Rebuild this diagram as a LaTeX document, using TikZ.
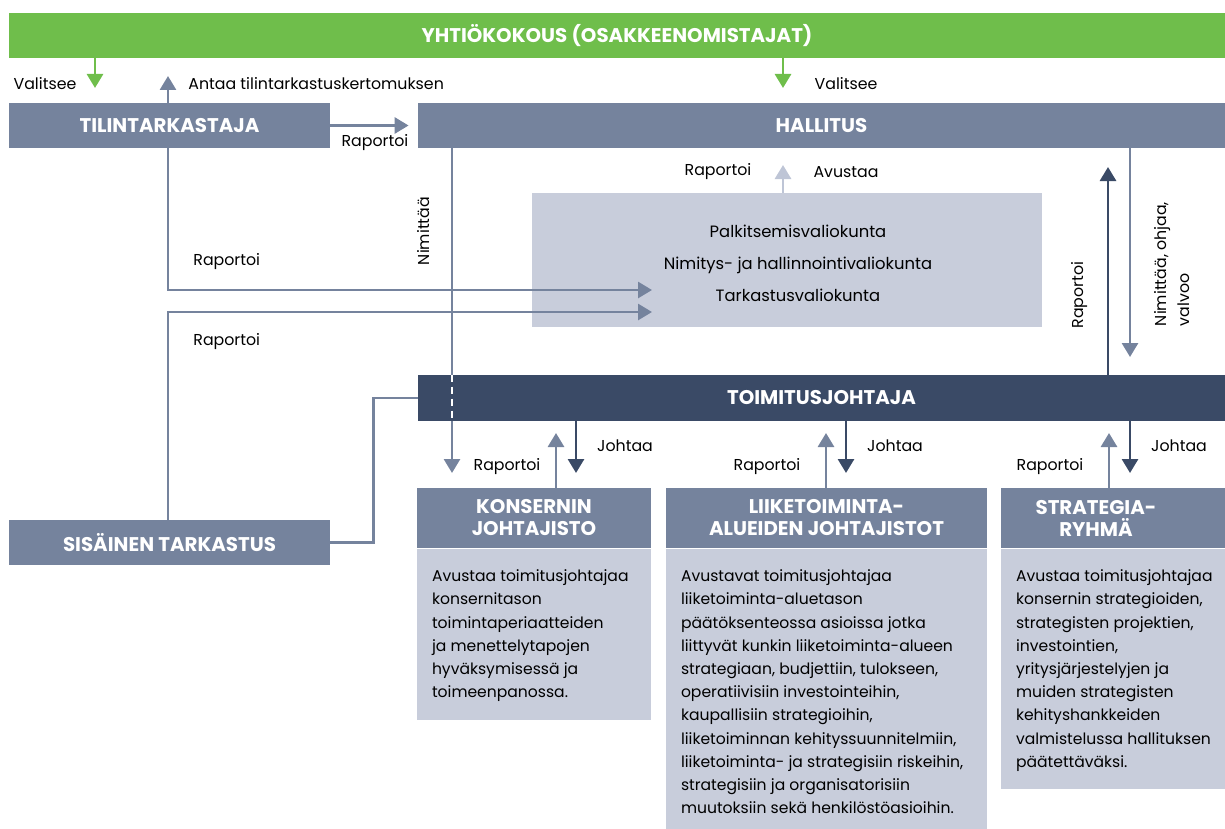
\documentclass[tikz,border=0pt]{standalone}
\usepackage{fontspec}
\setmainfont{Poppins}
\usetikzlibrary{arrows.meta}
\usetikzlibrary{positioning}

\definecolor{kokous}{RGB}{111,190,75}
\definecolor{slate}{RGB}{117,131,157}
\definecolor{navy}{RGB}{58,74,102}
\definecolor{pale}{RGB}{200,205,219}
\definecolor{paleline}{RGB}{190,197,214}

\begin{document}
\begin{tikzpicture}
    [x=0.5pt,y=-0.5pt,
    bar/.style={rectangle,fill=slate,text=white,inner sep=0pt,
      font=\bfseries\fontsize{9.9}{11}\selectfont,align=center},
    panel/.style={rectangle,fill=pale,inner sep=0pt},
    note/.style={font=\fontsize{7.8}{11.6}\selectfont,inner sep=0pt,align=left},
    tag/.style={font=\fontsize{7.9}{9}\selectfont,inner sep=0pt},
    line/.style={draw=slate,line width=1.4pt},
    link/.style={line,-{Triangle[width=8pt,length=7pt]}},
    navylink/.style={link,draw=navy},
    palelink/.style={link,draw=paleline},
    greenlink/.style={link,draw=kokous}]

    \useasboundingbox (0,0) rectangle (1225,829);

    % boxes
    \node[bar,fill=kokous,minimum width=608pt,minimum height=22.5pt] (yhtiokokous) at (617,35.5) {YHTIÖKOKOUS (OSAKKEENOMISTAJAT)};

    \node[bar,minimum width=160.5pt,minimum height=22.5pt] (tilintarkastaja) at (169.5,125.5) {TILINTARKASTAJA};

    \node[bar,minimum width=403.5pt,minimum height=22.5pt] (hallitus) at (821.5,125.5) {HALLITUS};

    \node[panel,minimum width=255pt,minimum height=67pt] (valiokunnat) at (787,260) {};
    \node[note,align=center,font=\fontsize{8.2}{16}\selectfont] (valiokunnat text) at (798,263)
      {Palkitsemisvaliokunta\\Nimitys- ja hallinnointivaliokunta\\Tarkastusvaliokunta};

    \node[bar,fill=navy,minimum width=403.5pt,minimum height=23pt] (toimitusjohtaja) at (821.5,398) {TOIMITUSJOHTAJA};

    \node[bar,minimum width=160.5pt,minimum height=22.5pt] (sisainen) at (169.5,542.5) {SISÄINEN TARKASTUS};

    \node[bar,minimum width=117pt,minimum height=30pt] (konserni) at (534,518) {KONSERNIN\\JOHTAJISTO};
    \node[panel,minimum width=117pt,minimum height=85.5pt,below=0pt of konserni] (konserni body) {};
    \node[note,anchor=north west] (konserni text) at ([xshift=7.5pt,yshift=-10.5pt]konserni body.north west)
      {Avustaa toimitusjohtajaa\\konsernitason\\toimintaperiaatteiden\\ja menettelytapojen\\hyväksymisessä ja\\toimeenpanossa.};

    \node[bar,minimum width=160.5pt,minimum height=30pt] (liiketoiminta) at (826.5,518) {LIIKETOIMINTA-\\ALUEIDEN JOHTAJISTOT};
    \node[panel,minimum width=160.5pt,minimum height=140.5pt,below=0pt of liiketoiminta] (liiketoiminta body) {};
    \node[note,anchor=north west] (liiketoiminta text) at ([xshift=7.5pt,yshift=-10.5pt]liiketoiminta body.north west)
      {Avustavat toimitusjohtajaa\\liiketoiminta-aluetason\\päätöksenteossa asioissa jotka\\liittyvät kunkin liiketoiminta-alueen\\strategiaan, budjettiin, tulokseen,\\operatiivisiin investointeihin,\\kaupallisiin strategioihin,\\liiketoiminnan kehityssuunnitelmiin,\\liiketoiminta- ja strategisiin riskeihin,\\strategisiin ja organisatorisiin\\muutoksiin sekä henkilöstöasioihin.};

    \node[bar,minimum width=112pt,minimum height=30pt] (strategia) at (1113,518) {};
    \node[bar,fill=none] (strategia text) at (1096,518) {STRATEGIA-\\RYHMÄ};
    \node[panel,minimum width=112pt,minimum height=120pt,below=0pt of strategia] (strategia body) {};
    \node[note,anchor=north west] (strategia note) at ([xshift=7.5pt,yshift=-10.5pt]strategia body.north west)
      {Avustaa toimitusjohtajaa\\konsernin strategioiden,\\strategisten projektien,\\investointien,\\yritysjärjestelyjen ja\\muiden strategisten\\kehityshankkeiden\\valmistelussa hallituksen\\päätettäväksi.};

    % helper points
    \coordinate (valitsee 1)   at (95,88);
    \coordinate (valitsee 2)   at (783,88);
    \coordinate (kertomus)     at (168,76);
    \coordinate (raportti 1)   at (652,290);
    \coordinate (raportti 2)   at (652,312);
    \coordinate (nimitys)      at (452,473);
    \coordinate (avustus)      at (783,165);
    \coordinate (tj raportti)  at (1108,167);
    \coordinate (ohjaus)       at (1130,357);
    \coordinate (konserni up)       at (556,433);
    \coordinate (konserni down)     at (576,473);
    \coordinate (liiketoiminta up)  at (826,433);
    \coordinate (liiketoiminta down) at (846,473);
    \coordinate (strategia up)      at (1109,433);
    \coordinate (strategia down)    at (1130,473);

    % connectors
    \draw[greenlink] (yhtiokokous.south -| valitsee 1) -- (valitsee 1);
    \draw[greenlink] (yhtiokokous.south -| valitsee 2) -- (valitsee 2);

    \draw[link] (tilintarkastaja.north -| kertomus) -- (kertomus);
    \draw[link] (tilintarkastaja.south -| kertomus) |- (raportti 1);
    \draw[link] (sisainen.north -| kertomus) |- (raportti 2);
    \draw[link,shorten >=4.5pt] (tilintarkastaja.east) -- (hallitus.west);

    \draw[line] (hallitus.south -| nimitys) -- (toimitusjohtaja.north -| nimitys);
    \draw[link] (toimitusjohtaja.south -| nimitys) -- (nimitys);
    \draw[white,line width=1.2pt,dash pattern=on 3.5pt off 2.5pt]
      (toimitusjohtaja.north -| nimitys) -- (toimitusjohtaja.south -| nimitys);

    \draw[line] (sisainen.east) -- ++(43,0) |- (toimitusjohtaja.west);

    \draw[palelink] (valiokunnat.north -| avustus) -- (avustus);
    \draw[navylink] (toimitusjohtaja.north -| tj raportti) -- (tj raportti);
    \draw[link] (hallitus.south -| ohjaus) -- (ohjaus);

    \draw[link] (konserni.north -| konserni up) -- (konserni up);
    \draw[navylink] (toimitusjohtaja.south -| konserni down) -- (konserni down);
    \draw[link] (liiketoiminta.north -| liiketoiminta up) -- (liiketoiminta up);
    \draw[navylink] (toimitusjohtaja.south -| liiketoiminta down) -- (liiketoiminta down);
    \draw[link] (strategia.north -| strategia up) -- (strategia up);
    \draw[navylink] (toimitusjohtaja.south -| strategia down) -- (strategia down);

    % labels
    \node[tag] (valitsee 1 text) at (45,84) {Valitsee};
    \node[tag] (valitsee 2 text) at (846,84) {Valitsee};
    \node[tag,anchor=west] (kertomus text) at (188,84) {Antaa tilintarkastuskertomuksen};
    \node[tag] (raportoi tilin) at (375,143) {Raportoi};
    \node[tag,anchor=west] (raportoi 1) at (193,262) {Raportoi};
    \node[tag,anchor=west] (raportoi 2) at (193,342) {Raportoi};
    \node[tag,rotate=90] (nimittaa) at (424,231) {Nimittää};
    \node[tag] (raportoi valiokunta) at (718,172) {Raportoi};
    \node[tag] (avustaa) at (846,172) {Avustaa};
    \node[tag,rotate=90] (raportoi tj) at (1080,295) {Raportoi};
    \node[tag,rotate=90,align=left,font=\fontsize{7.9}{11.6}\selectfont] (ohjaus text) at (1172,264) {Nimittää, ohjaa,\\valvoo};

    \node[tag] (raportoi konserni) at (507,467) {Raportoi};
    \node[tag] (johtaa konserni) at (625,446) {Johtaa};
    \node[tag] (raportoi liiketoiminta) at (767,467) {Raportoi};
    \node[tag] (johtaa liiketoiminta) at (895,446) {Johtaa};
    \node[tag] (raportoi strategia) at (1050,467) {Raportoi};
    \node[tag] (johtaa strategia) at (1179,446) {Johtaa};
  \end{tikzpicture}
\end{document}
